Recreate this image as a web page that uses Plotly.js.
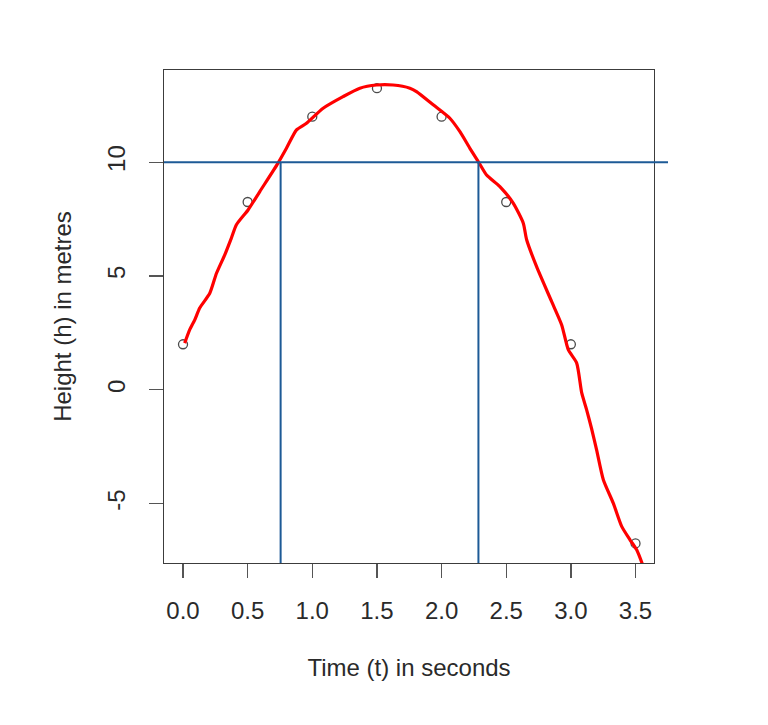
<!DOCTYPE html>
<html>
<head>
<meta charset="utf-8">
<script src="https://cdn.plot.ly/plotly-3.0.1.min.js"></script>
<style>html,body{margin:0;padding:0;background:#fff;}#chart{width:768px;height:725px;}</style>
</head>
<body>
<div id="chart"></div>
<script>
// Observed points
const timeSec = [0.0, 0.5, 1.0, 1.5, 2.0, 2.5, 3.0, 3.5];
const heightM = [2, 8.25, 12, 13.25, 12, 8.25, 2, -6.75];

// Hand-drawn red curve
const curveT = [0.013, 0.052, 0.091, 0.129, 0.207, 0.259, 0.323, 0.375, 0.413, 0.503,
  0.594, 0.735, 0.800, 0.878, 0.955, 1.084, 1.238, 1.368, 1.497, 1.625,
  1.755, 1.806, 1.935, 2.064, 2.142, 2.219, 2.291, 2.348, 2.451, 2.554,
  2.632, 2.658, 2.735, 2.851, 2.929, 2.980, 3.045, 3.084, 3.122, 3.160,
  3.199, 3.251, 3.328, 3.393, 3.457, 3.509, 3.574];
const curveH = [2.05, 2.64, 3.07, 3.59, 4.24, 5.12, 5.93, 6.68, 7.25, 7.90,
  8.71, 9.96, 10.61, 11.42, 11.71, 12.37, 12.88, 13.25, 13.39, 13.39,
  13.25, 13.10, 12.52, 11.93, 11.34, 10.61, 9.96, 9.44, 8.93, 8.20,
  7.32, 6.59, 5.41, 3.88, 2.85, 1.76, 1.17, -0.14, -0.88, -1.70,
  -2.64, -3.95, -4.98, -6.00, -6.59, -7.03, -7.98];

// Reference lines
const hLineY = 10;
const vLineX = [0.755, 2.285];

// Axis ticks
const xTicks = [0.0, 0.5, 1.0, 1.5, 2.0, 2.5, 3.0, 3.5];
const xTickText = ["0.0", "0.5", "1.0", "1.5", "2.0", "2.5", "3.0", "3.5"];
const yTicks = [-5, 0, 5, 10];
const yTickText = ["-5", "0", "5", "10"];

const xRange = [-0.147, 3.643];
const yRange = [-7.61, 14.05];

const FONT = "Liberation Sans, Arial, sans-serif";
const BLUE = "#1d5a96";
const FS = 24;

const traces = [
  {
    x: timeSec, y: heightM, type: "scatter", mode: "markers",
    marker: {symbol: "circle-open", size: 9, color: "#4a4a4a", line: {width: 1.3, color: "#4a4a4a"}},
    showlegend: false, hoverinfo: "skip"
  },
  {
    x: curveT, y: curveH, type: "scatter", mode: "lines",
    line: {color: "#ff0000", width: 3.2, shape: "spline", smoothing: 0.6},
    showlegend: false, hoverinfo: "skip"
  }
];
vLineX.forEach(function (vx) {
  traces.push({
    x: [vx, vx], y: [yRange[0], hLineY], type: "scatter", mode: "lines",
    line: {color: BLUE, width: 2},
    showlegend: false, hoverinfo: "skip"
  });
});

const layout = {
  width: 768, height: 725,
  margin: {l: 164, r: 114, t: 70, b: 162},
  paper_bgcolor: "#ffffff", plot_bgcolor: "#ffffff",
  font: {family: FONT, size: FS, color: "#2a2a2a"},
  xaxis: {
    range: xRange, tickvals: xTicks, ticktext: xTickText,
    showgrid: false, zeroline: false,
    showline: true, mirror: true, linecolor: "#3c3c3c", linewidth: 1.3,
    ticks: "outside", ticklen: 14, tickwidth: 1.3, tickcolor: "#555555",
    ticklabelstandoff: 12,
    tickfont: {family: FONT, size: FS, color: "#2a2a2a"},
    title: {text: "Time (t) in seconds", font: {family: FONT, size: FS, color: "#2a2a2a"}, standoff: 36}
  },
  yaxis: {
    range: yRange, tickvals: yTicks, ticktext: yTickText,
    showgrid: false, zeroline: false,
    showline: true, mirror: true, linecolor: "#3c3c3c", linewidth: 1.3,
    ticks: "outside", ticklen: 14, tickwidth: 1.3, tickcolor: "#555555",
    tickangle: -90, ticklabelstandoff: 14,
    tickfont: {family: FONT, size: FS, color: "#2a2a2a"},
    title: {text: "Height (h) in metres", font: {family: FONT, size: FS, color: "#2a2a2a"}, standoff: 24}
  },
  shapes: [{
    type: "line", xref: "paper", yref: "y",
    x0: 0, x1: 1.0286, y0: hLineY, y1: hLineY,
    line: {color: BLUE, width: 2}, layer: "above"
  }]
};

Plotly.newPlot("chart", traces, layout, {displayModeBar: false, staticPlot: true});
</script>
</body>
</html>
